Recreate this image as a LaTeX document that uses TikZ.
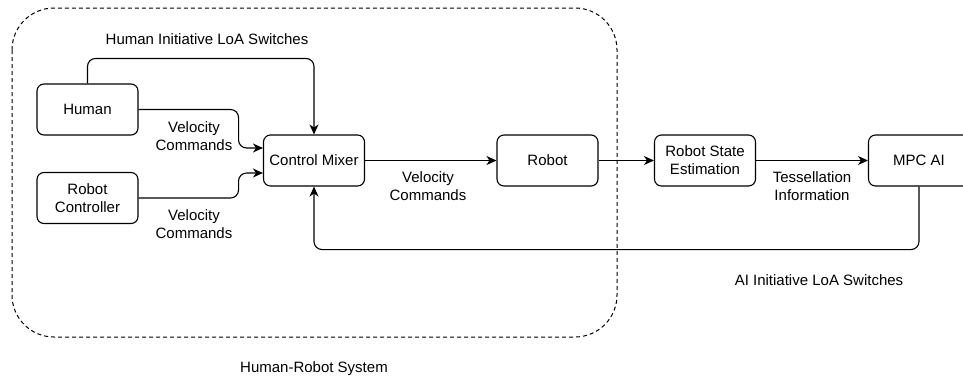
\documentclass[tikz,border=0pt]{standalone}
\usepackage{fontspec}
\setmainfont{Liberation Sans}
\usepackage{tikz}
\usetikzlibrary{arrows.meta,positioning}

\begin{document}
\begin{tikzpicture}[x=1pt,y=-1pt]
				\tikzstyle{Block}	= [draw, line width=1.1pt, rounded corners=7pt, minimum width=101pt, minimum height=51pt, inner sep=2pt, align=center, font=\fontsize{15}{18}\selectfont]
				\tikzstyle{Label}	= [align=center, font=\fontsize{15}{18}\selectfont]
				\tikzstyle{Flow}	= [line width=1.1pt, rounded corners=8pt, -{Stealth[length=10pt,width=9pt,inset=3pt]}]
				\tikzstyle{Group}	= [line width=1pt, dash pattern=on 4pt off 3pt, rounded corners=42pt]

				\useasboundingbox (0,0) rectangle (963,381);

				% human-robot system boundary
				\draw[Group] (12,8) rectangle (617,337);

				\node (hum) at (87.5,109.5) [Block] {Human};
				\node (ctrl) at (87.5,198) [Block] {Robot\\Controller};
				\node (mix) at (314,160.5) [Block] {Control Mixer};
				\node (robot) at (547.5,160.5) [Block] {Robot};
				\node (rse) at (705,160.5) [Block] {Robot State\\Estimation};
				\node (mpc) at (919,160.5) [Block] {MPC AI};

				\draw[Flow] (hum.east) -- ++(100,0) |- ([yshift=12.5pt]mix.west);
				\draw[Flow] (ctrl.east) -- ++(100,0) |- ([yshift=-12.5pt]mix.west);
				\draw[Flow] (hum.north) -- ++(0,-25) -| (mix.north);
				\draw[Flow] (mix) -- (robot);
				\draw[Flow] (robot) -- (rse);
				\draw[Flow] (rse) -- (mpc);
				\draw[Flow] (mpc.south) -- ++(0,63) -| (mix.south);

				\node (lhis) at (207,39) [Label] {Human Initiative LoA Switches};
				\node (lvc1) at (194,136) [Label] {Velocity\\Commands};
				\node (lvc2) at (194,224) [Label] {Velocity\\Commands};
				\node (lvc3) at (428,186) [Label] {Velocity\\Commands};
				\node (ltess) at (812,186) [Label] {Tessellation\\Information};
				\node (lais) at (819,280) [Label] {AI Initiative LoA Switches};
				\node (lsys) at (314,369) [Label] {Human-Robot System};
\end{tikzpicture}
\end{document}
